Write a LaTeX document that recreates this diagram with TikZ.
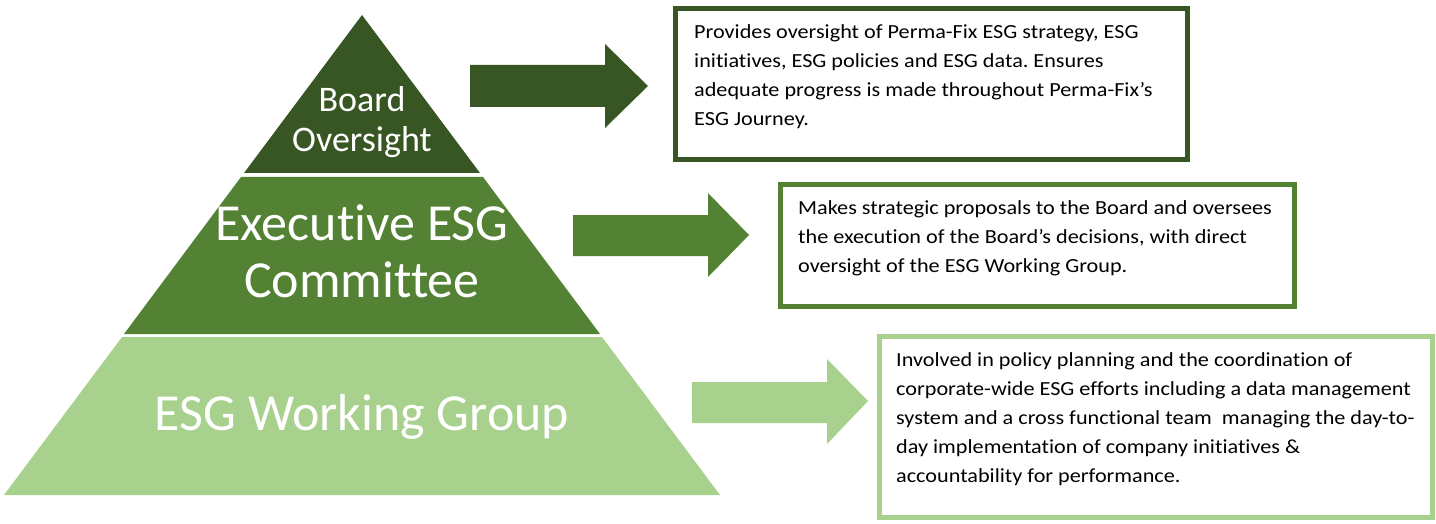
\documentclass[tikz,border=0pt]{standalone}
\usepackage{fontspec}
\setmainfont[Ligatures=NoCommon]{Carlito}
\newfontfamily\boxfont[FakeStretch=1.11,Ligatures=NoCommon]{Carlito}
\frenchspacing
\definecolor{gdark}{RGB}{55,86,35}
\definecolor{gmid}{RGB}{84,130,53}
\definecolor{glight}{RGB}{169,209,142}
\begin{document}
\begin{tikzpicture}[x=1pt,y=-1pt,
  infobox/.style={line width=5pt,fill=white},
  infotext/.style={anchor=base west,inner sep=0pt,align=left,font=\boxfont\fontsize{20}{29}\selectfont,text=black},
  levellabel/.style={anchor=base,inner sep=0pt,align=center,text=white}
]
\useasboundingbox (0,0) rectangle (1436,524);
% pyramid bands
\fill[gdark] (362,15) -- (480,173) -- (244,173) -- cycle;
\fill[gmid] (241,177) -- (483,177) -- (600,334) -- (124,334) -- cycle;
\fill[glight] (122,337) -- (602,337) -- (720,495) -- (4,495) -- cycle;
% labels
\node[levellabel,font=\fontsize{36}{40}\selectfont] (board) at (362,152) {Board\\Oversight};
\node[levellabel,font=\fontsize{52}{57}\selectfont] (exec) at (362,297) {Executive ESG\\Committee};
\node[levellabel,font=\fontsize{52}{57}\selectfont] (wg) at (362,430) {ESG Working Group};
% arrows
\fill[gdark] (470,65) -- (605,65) -- (605,44) -- (648,86) -- (605,128) -- (605,107) -- (470,107) -- cycle;
\fill[gmid] (573,215) -- (708,215) -- (708,193) -- (749,235) -- (708,277) -- (708,256) -- (573,256) -- cycle;
\fill[glight] (692,382) -- (827,382) -- (827,359) -- (868,401) -- (827,444) -- (827,423) -- (692,423) -- cycle;
% boxes
\draw[infobox,draw=gdark] (675.5,8.5) rectangle (1187.5,159.5);
\draw[infobox,draw=gmid] (780.5,184.5) rectangle (1294,306.5);
\draw[infobox,draw=glight] (879.5,336.5) rectangle (1432,517.5);
\node[infotext] (t1) at (694,126) {Provides oversight of Perma-Fix ESG strategy, ESG\\initiatives, ESG policies and ESG data. Ensures\\adequate progress is made throughout Perma-Fix’s\\ESG Journey.};
\node[infotext] (t2) at (798,272) {Makes strategic proposals to the Board and oversees\\the execution of the Board’s decisions, with direct\\oversight of the ESG Working Group.};
\node[infotext] (t3) at (896,482) {Involved in policy planning and the coordination of\\corporate-wide ESG efforts including a data management\\system and a cross functional team\ \ managing the day-to-\\day implementation of company initiatives \&\\accountability for performance.};
\end{tikzpicture}
\end{document}
